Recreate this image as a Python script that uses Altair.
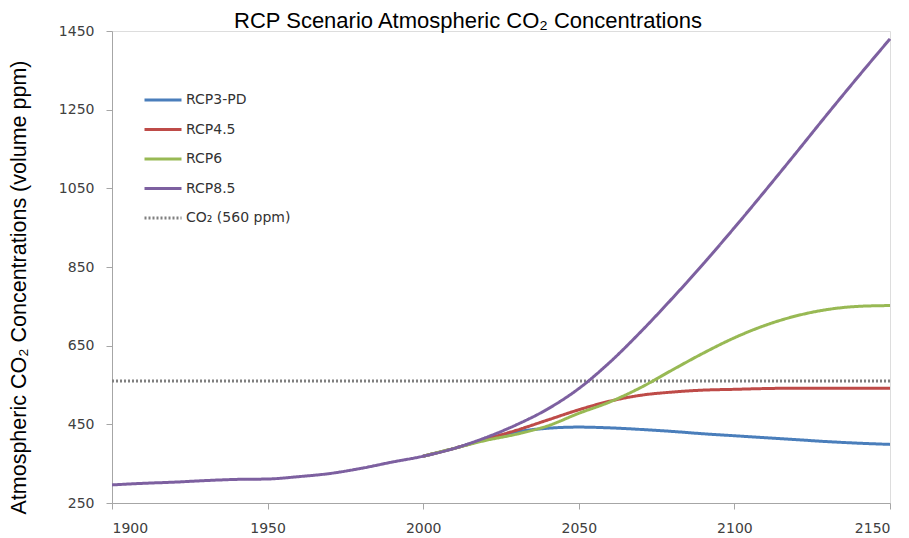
import altair as alt
import pandas as pd

years = [1900, 1910, 1920, 1930, 1940, 1950, 1960, 1970, 1980, 1990, 2000, 2010]
hist = [296, 300, 303, 307, 310, 311, 317, 325, 338, 354, 369, 389]

fut_years = [2020, 2030, 2040, 2050, 2060, 2070, 2080, 2090, 2100, 2110, 2120, 2130, 2140, 2150]
rcp3 = [412, 431, 440, 443, 441, 437, 432, 426, 421, 416, 411, 406, 402, 399]
rcp45 = [412, 435, 461, 487, 509, 524, 532, 537, 539, 541, 542, 542, 542, 542]
rcp6 = [409, 425, 446, 478, 507, 544, 588, 631, 670, 702, 726, 742, 750, 752]
rcp85 = [416, 449, 489, 541, 608, 686, 770, 858, 950, 1045, 1142, 1240, 1336, 1430]

ref_years = [1900, 2150]
ref_vals = [560, 560]

names = ["RCP3-PD", "RCP4.5", "RCP6", "RCP8.5", "CO₂ (560 ppm)"]
colors = ["#4A7EBB", "#BE4B48", "#98B954", "#7D60A0", "#808080"]
dashes = [[1, 0], [1, 0], [1, 0], [1, 0], [2, 2]]

rows = []
for y, v in zip(ref_years, ref_vals):
    rows.append({"year": y, "ppm": v, "series": names[4], "ord": 0})
for i, vals in enumerate([rcp3, rcp45, rcp6, rcp85]):
    if i == 3:
        src_y, src_v = years, hist
    else:
        src_y, src_v = years[-2:], hist[-2:]
    for y, v in zip(src_y, src_v):
        rows.append({"year": y, "ppm": v, "series": names[i], "ord": i + 1})
    for y, v in zip(fut_years, vals):
        rows.append({"year": y, "ppm": v, "series": names[i], "ord": i + 1})
df = pd.DataFrame(rows)

leg = alt.Legend(
    orient="none", legendX=31, legendY=49, title=None,
    symbolType="stroke", symbolSize=1369, symbolStrokeWidth=3,
    labelFont="DejaVu Sans", labelFontSize=14, labelColor="#333333",
    labelOffset=3, rowPadding=2.5,
    labelExpr="datum.label == 'CO₂ (560 ppm)' ? '\u00a0\u00a0\u00a0\u00a0CO₂ (560 ppm)' : datum.label",
)

chart = alt.Chart(df).mark_line(strokeWidth=3, interpolate="monotone").encode(
    x=alt.X("year:Q", scale=alt.Scale(domain=[1900, 2150], nice=False),
            axis=alt.Axis(values=[1900, 1950, 2000, 2050, 2100, 2150], format="d",
                          title=None, grid=False, tickSize=6, labelPadding=12,
                          labelFont="DejaVu Sans", labelFontSize=14, labelColor="#404040",
                          domainColor="#A6A6A6", tickColor="#A6A6A6")),
    y=alt.Y("ppm:Q", scale=alt.Scale(domain=[250, 1450], nice=False, zero=False),
            axis=alt.Axis(values=[250, 450, 650, 850, 1050, 1250, 1450], format="d",
                          title="Atmospheric CO₂ Concentrations (volume ppm)",
                          titleFont="Liberation Sans", titleFontSize=21.5, titleFontWeight="normal",
                          titleColor="#000000", titleAngle=-90, titleX=-93, titleY=256,
                          titleAlign="center", titleBaseline="middle",
                          grid=False, tickSize=6, labelPadding=12,
                          labelFont="DejaVu Sans", labelFontSize=14, labelColor="#404040",
                          domainColor="#A6A6A6", tickColor="#A6A6A6")),
    color=alt.Color("series:N", scale=alt.Scale(domain=names, range=colors), legend=leg),
    strokeDash=alt.StrokeDash("series:N", scale=alt.Scale(domain=names, range=dashes), legend=leg),
    order=alt.Order("ord:Q"),
).properties(
    width=778, height=472,
    title=alt.TitleParams("RCP Scenario Atmospheric CO₂ Concentrations",
                          font="Liberation Sans", fontSize=22, fontWeight="normal",
                          color="#000000", anchor="middle", dx=-33, dy=13, offset=4),
    autosize=alt.AutoSizeParams(type="none"),
    padding={"left": 104, "top": 23, "right": 11, "bottom": 35},
).configure_view(stroke=None).configure(background="white")

chart.save("out.html", embed_options={"renderer": "svg", "actions": False})
